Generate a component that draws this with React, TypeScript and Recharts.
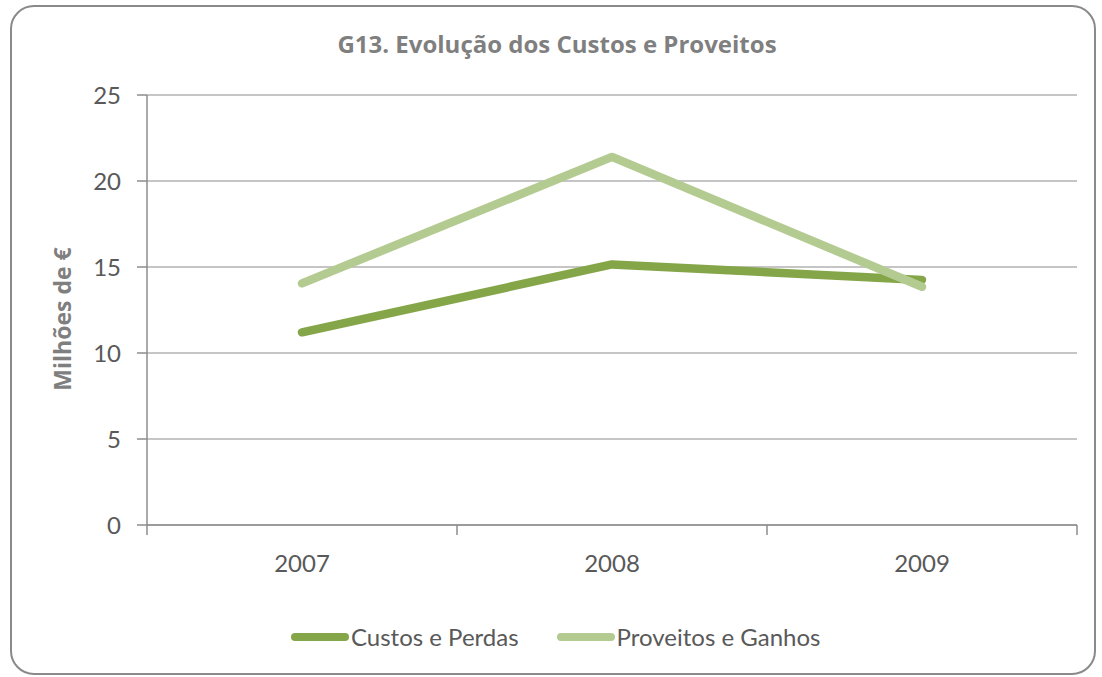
import React from "react";
import {
  LineChart,
  Line,
  XAxis,
  YAxis,
  CartesianGrid,
  Legend,
} from "recharts";

const years = ["2007", "2008", "2009"];
const custosPerdas = [11.2, 15.15, 14.25];
const proveitosGanhos = [14.05, 21.4, 13.85];
const yTicks = [0, 5, 10, 15, 20, 25];
// category boundaries (tick marks) and centres (labels)
const xTicks = [0, 0.5, 1, 1.5, 2, 2.5, 3];

const FONT = "Lato, 'Open Sans', sans-serif";
const BOLD_FONT = "'Open Sans', Lato, sans-serif";
const DARK = "#84a548";
const LIGHT = "#b3cb91";
const AXIS = "#8c8c8c";

const data = years.map((year, i) => ({
  x: i + 0.5,
  year,
  custos: custosPerdas[i],
  proveitos: proveitosGanhos[i],
}));

// eslint-disable-next-line @typescript-eslint/no-explicit-any
function XTick({ x, y, payload }: any) {
  const v = payload.value as number;
  if (Number.isInteger(v)) {
    return <line x1={x} x2={x} y1={y - 8} y2={y + 2} stroke={AXIS} strokeWidth={1.5} />;
  }
  return (
    <text
      x={x}
      y={y + 39}
      textAnchor="middle"
      fill="#595959"
      fontSize={24}
      fontFamily={FONT}
    >
      {years[Math.floor(v)]}
    </text>
  );
}

function YLabel() {
  return (
    <text
      x={62}
      y={319}
      transform="rotate(-90, 62, 319)"
      textAnchor="middle"
      dominantBaseline="central"
      fill="#7f7f7f"
      fontSize={23}
      fontWeight={700}
      fontFamily={BOLD_FONT}
    >
      Milhões de €
    </text>
  );
}

function LegendContent() {
  const items = [
    { name: "Custos e Perdas", color: DARK },
    { name: "Proveitos e Ganhos", color: LIGHT },
  ];
  return (
    <div style={{ display: "flex", alignItems: "center", fontFamily: FONT, fontSize: 24, color: "#595959" }}>
      {items.map((it, i) => (
        <div key={it.name} style={{ display: "flex", alignItems: "center", marginRight: i === 0 ? 38 : 0 }}>
          <span
            style={{
              display: "inline-block",
              width: 58,
              height: 8,
              borderRadius: 4,
              background: it.color,
            }}
          />
          <span style={{ marginLeft: 2 }}>{it.name}</span>
        </div>
      ))}
    </div>
  );
}

export default function App() {
  return (
    <div style={{ position: "absolute", left: 0, top: 0, width: 1102, height: 677, background: "#fff" }}>
      <div
        style={{
          position: "absolute",
          left: 10,
          top: 5,
          width: 1086,
          height: 670,
          boxSizing: "border-box",
          border: "2px solid #8a8a8a",
          borderRadius: 24,
        }}
      />
      <div
        style={{
          position: "absolute",
          left: 0,
          top: 26,
          width: 1114,
          textAlign: "center",
          fontFamily: BOLD_FONT,
          fontWeight: 700,
          fontSize: 24,
          lineHeight: "36px",
          color: "#7f7f7f",
        }}
      >
        G13. Evolução dos Custos e Proveitos
      </div>
      <div style={{ position: "absolute", left: 0, top: 0 }}>
        <LineChart
          width={1102}
          height={677}
          data={data}
          margin={{ top: 95, right: 25, bottom: 82, left: 0 }}
        >
          <CartesianGrid vertical={false} stroke={AXIS} strokeWidth={1.2} />
          <XAxis
            dataKey="x"
            type="number"
            domain={[0, 3]}
            ticks={xTicks}
            interval={0}
            height={70}
            stroke={AXIS}
            strokeWidth={1.5}
            tickLine={false}
            tick={<XTick />}
          />
          <YAxis
            width={147}
            domain={[0, 25]}
            ticks={yTicks}
            stroke={AXIS}
            strokeWidth={1.5}
            tickSize={10}
            tick={{ fill: "#595959", fontSize: 24, fontFamily: FONT, dx: -14 }}
            label={<YLabel />}
          />
          <Legend
            verticalAlign="middle"
            align="center"
            layout="horizontal"
            wrapperStyle={{ top: 622, left: 291, width: 700 }}
            content={<LegendContent />}
          />
          <Line
            type="linear"
            dataKey="custos"
            name="Custos e Perdas"
            stroke={DARK}
            strokeWidth={8.5}
            strokeLinecap="round"
            strokeLinejoin="round"
            dot={false}
            isAnimationActive={false}
          />
          <Line
            type="linear"
            dataKey="proveitos"
            name="Proveitos e Ganhos"
            stroke={LIGHT}
            strokeWidth={8.5}
            strokeLinecap="round"
            strokeLinejoin="round"
            dot={false}
            isAnimationActive={false}
          />
        </LineChart>
      </div>
    </div>
  );
}
